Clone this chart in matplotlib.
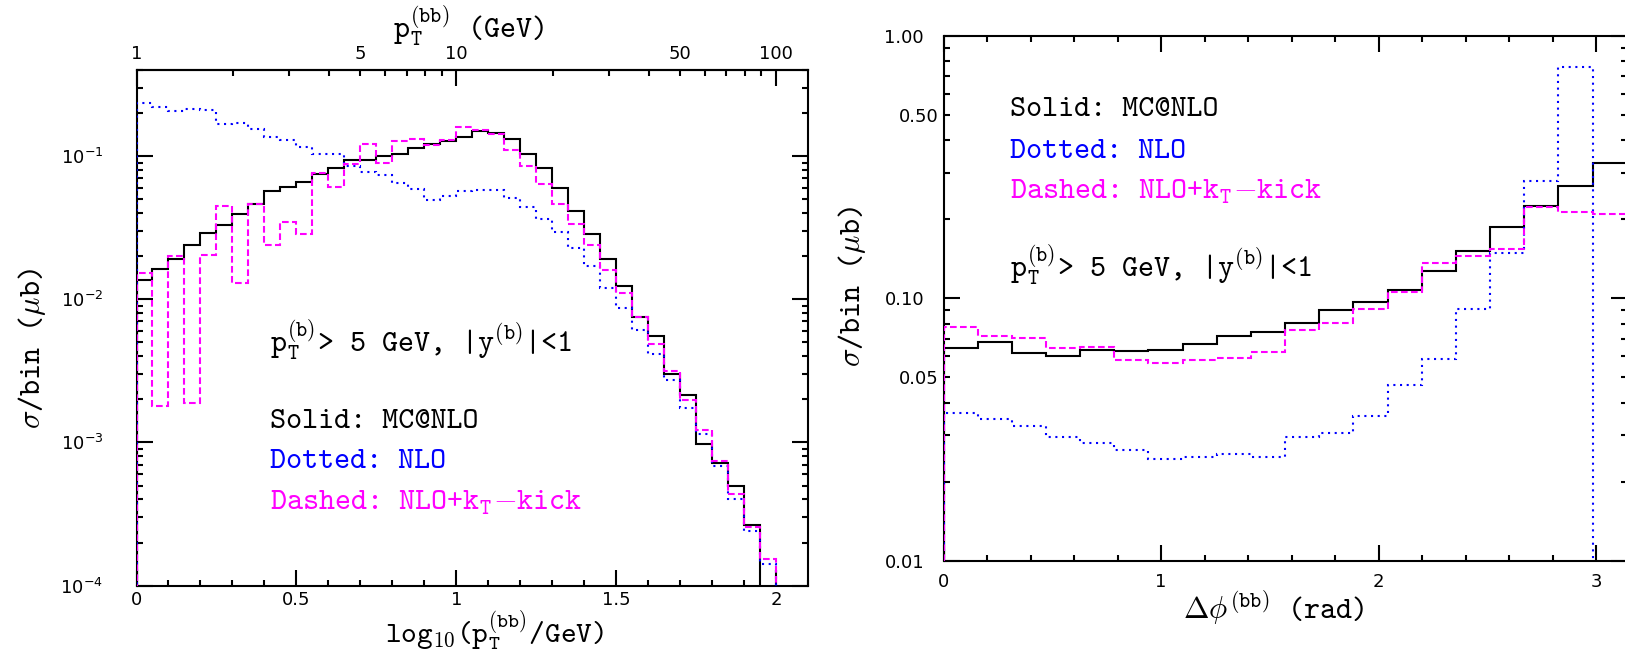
import numpy as np
import matplotlib
matplotlib.use("Agg")
import matplotlib.pyplot as plt
from matplotlib.ticker import FixedLocator, MultipleLocator, LogLocator, FuncFormatter, NullFormatter

plt.rcParams['font.family'] = ['DejaVu Sans']
plt.rcParams['mathtext.fontset'] = 'cm'

# ---------------- data ----------------
# Left panel: sigma/bin vs log10(pT(bb)/GeV), 40 bins of width 0.05 between 0 and 2
pt_edges = np.round(np.arange(41) * 0.05, 3)
pt_mcatnlo = [0.0136, 0.0162, 0.0191, 0.0238, 0.0290, 0.0332, 0.0392, 0.0465, 0.0570, 0.0608,
              0.0659, 0.0749, 0.0825, 0.0933, 0.0942, 0.0995, 0.1038, 0.1130, 0.1205, 0.1264,
              0.1364, 0.1490, 0.1456, 0.1320, 0.1033, 0.0829, 0.0601, 0.0413, 0.0284, 0.0192,
              0.0124, 0.00753, 0.00557, 0.00299, 0.00216, 0.00098, 0.000718, 0.000493, 0.000264, 1e-6]
pt_nlo = [0.234, 0.220, 0.205, 0.211, 0.209, 0.168, 0.171, 0.155, 0.136, 0.130,
          0.1156, 0.1028, 0.1038, 0.0847, 0.0773, 0.0733, 0.0648, 0.0592, 0.0491, 0.0524,
          0.0567, 0.0582, 0.0576, 0.0512, 0.0441, 0.0361, 0.0295, 0.0226, 0.0170, 0.0120,
          0.00875, 0.0061, 0.00413, 0.00273, 0.00175, 0.00114, 0.000688, 0.000405, 0.000242, 0.000142]
pt_kick = [0.01535, 0.0018, 0.0200, 0.0019, 0.0204, 0.0446, 0.0130, 0.0460, 0.0240, 0.0347,
           0.0284, 0.0765, 0.0608, 0.0875, 0.1220, 0.0894, 0.1270, 0.1315, 0.1194, 0.1285,
           0.1585, 0.1510, 0.1416, 0.1096, 0.0847, 0.0634, 0.0460, 0.0336, 0.0238, 0.0160,
           0.01107, 0.00753, 0.00488, 0.00313, 0.00198, 0.00123, 0.000745, 0.000439, 0.000256, 0.000153]

# Right panel: sigma/bin vs delta phi(bb), 20 bins of width pi/20
dphi_edges = np.linspace(0, np.pi, 21)
dphi_mcatnlo = [0.0648, 0.0679, 0.0617, 0.0601, 0.0635, 0.0628, 0.0637, 0.0668, 0.0717, 0.0743,
                0.0802, 0.0904, 0.0964, 0.1070, 0.1273, 0.1509, 0.1873, 0.2245, 0.2676, 0.3280]
dphi_nlo = [0.0366, 0.0348, 0.0325, 0.0295, 0.0282, 0.0264, 0.0243, 0.0248, 0.0254, 0.0248,
            0.0297, 0.0306, 0.0356, 0.0465, 0.0587, 0.0910, 0.1490, 0.2805, 0.7620, 1e-6]
dphi_kick = [0.0779, 0.0720, 0.0703, 0.0648, 0.0654, 0.0582, 0.0568, 0.0582, 0.0594, 0.0622,
             0.0757, 0.0802, 0.0910, 0.1060, 0.1366, 0.1449, 0.1540, 0.2220, 0.2125, 0.2087]

# tick labels
pt_xticks = [0, 0.5, 1, 1.5, 2]
pt_top_major = [1, 10, 100]
pt_top_minor = [2, 3, 4, 5, 6, 7, 8, 9, 20, 30, 40, 50, 60, 70, 80, 90]
pt_top_labelled = [5, 50]
dphi_xticks = [0, 1, 2, 3]
dphi_ylabelled = [0.05, 0.5]

# ---------------- figure ----------------
W, H = 1625, 650
fig = plt.figure(figsize=(W / 100, H / 100), dpi=100)


def fx(x):
    return x / W


def fy(y):
    return 1 - y / H


axL = fig.add_axes([fx(136.5), fy(585.7), (808 - 136.5) / W, (585.7 - 69.7) / H])
axR = fig.add_axes([fx(943.5), fy(560.7), (1626.8 - 943.5) / W, (560.7 - 35.7) / H])

LW = 1.5
st_mc = dict(color='black', lw=LW, ls='-', zorder=3)
st_nlo = dict(color='#0000ff', lw=LW, ls=(0, (1, 2.2)), zorder=4)
st_kick = dict(color='#ff00ff', lw=LW, ls=(0, (3.2, 1.6)), zorder=5)

for ax, edges, mc, nlo, kick in [(axL, pt_edges, pt_mcatnlo, pt_nlo, pt_kick),
                                  (axR, dphi_edges, dphi_mcatnlo, dphi_nlo, dphi_kick)]:
    ax.set_yscale('log')
    ax.stairs(mc, edges, baseline=1e-9, fill=False, **st_mc)
    ax.stairs(nlo, edges, baseline=1e-9, fill=False, **st_nlo)
    ax.stairs(kick, edges, baseline=1e-9, fill=False, **st_kick)
    for s in ax.spines.values():
        s.set_linewidth(LW)

MAJ, MIN = 11.5, 4.3
TICKFS = 13

# ---- left axes ----
axL.set_xlim(0, 2.1)
axL.set_ylim(1e-4, 0.4)
axL.xaxis.set_major_locator(FixedLocator(pt_xticks))
axL.xaxis.set_minor_locator(MultipleLocator(0.1))
axL.xaxis.set_major_formatter(FuncFormatter(lambda v, p: f'{v:g}'))
axL.yaxis.set_major_locator(LogLocator(base=10))
axL.yaxis.set_minor_locator(LogLocator(base=10, subs=np.arange(2, 10)))
axL.yaxis.set_minor_formatter(NullFormatter())
axL.yaxis.set_major_formatter(FuncFormatter(
    lambda v, p: r'$\mathregular{10^{%d}}$' % int(round(np.log10(v)))))
axL.tick_params(which='both', direction='in', top=False, bottom=True, left=True, right=True,
                width=LW, labelsize=TICKFS)
axL.tick_params(which='major', length=MAJ)
axL.tick_params(which='minor', length=MIN)
axL.tick_params(axis='x', pad=4)
axL.tick_params(axis='y', pad=24)

sec = axL.secondary_xaxis('top')
sec.xaxis.set_major_locator(FixedLocator(np.log10(pt_top_major)))
sec.xaxis.set_major_formatter(FuncFormatter(lambda v, p: f'{10 ** v:.0f}'))
sec.xaxis.set_minor_locator(FixedLocator(np.log10(pt_top_minor)))
sec.xaxis.set_minor_formatter(FuncFormatter(
    lambda v, p: f'{10 ** v:.0f}' if round(10 ** v) in pt_top_labelled else ''))
sec.tick_params(which='both', direction='in', width=LW, labelsize=TICKFS, pad=5)
sec.tick_params(which='major', length=MAJ)
sec.tick_params(which='minor', length=MIN)
sec.spines['top'].set_linewidth(LW)

# ---- right axes ----
axR.set_xlim(0, np.pi)
axR.set_ylim(0.01, 1.0)
axR.xaxis.set_major_locator(FixedLocator(dphi_xticks))
axR.xaxis.set_minor_locator(MultipleLocator(0.2))
axR.xaxis.set_major_formatter(FuncFormatter(lambda v, p: f'{v:g}'))
axR.yaxis.set_major_locator(LogLocator(base=10))
axR.yaxis.set_minor_locator(LogLocator(base=10, subs=np.arange(2, 10)))
axR.yaxis.set_major_formatter(FuncFormatter(lambda v, p: f'{v:.2f}'))
axR.yaxis.set_minor_formatter(FuncFormatter(
    lambda v, p: f'{v:.2f}' if any(abs(v - t) < 1e-6 for t in dphi_ylabelled) else ''))
axR.tick_params(which='both', direction='in', top=True, bottom=True, left=True, right=True,
                width=LW, labelsize=TICKFS)
axR.tick_params(which='major', length=MAJ)
axR.tick_params(which='minor', length=MIN)
axR.tick_params(axis='x', pad=9)
axR.tick_params(axis='y', pad=14)

# ---------------- text ----------------
TF = dict(family='cmtt10', size=22)
BLUE, MAG = '#0000ff', '#ff00ff'
cut_txt = r'p$_{\mathtt{T}}^{\mathtt{(b)}}$> 5 GeV, |y$^{\mathtt{(b)}}$|<1'
kick_txt = r'Dashed: NLO+k$_{\mathtt{T}}$$-$kick'

fig.text(fx(270), fy(352), cut_txt, va='baseline', ha='left', **TF)
fig.text(fx(270), fy(428), 'Solid: MC@NLO', va='baseline', ha='left', color='black', **TF)
fig.text(fx(270), fy(468), 'Dotted: NLO', va='baseline', ha='left', color=BLUE, **TF)
fig.text(fx(270), fy(510), kick_txt, va='baseline', ha='left', color=MAG, **TF)

fig.text(fx(1010), fy(116), 'Solid: MC@NLO', va='baseline', ha='left', color='black', **TF)
fig.text(fx(1010), fy(158), 'Dotted: NLO', va='baseline', ha='left', color=BLUE, **TF)
fig.text(fx(1010), fy(199), kick_txt, va='baseline', ha='left', color=MAG, **TF)
fig.text(fx(1010), fy(277), cut_txt, va='baseline', ha='left', **TF)

# axis titles
fig.text(fx(495), fy(642), r'log$_{\mathtt{10}}$(p$_{\mathtt{T}}^{\mathtt{(bb)}}$/GeV)',
         va='baseline', ha='center', family='cmtt10', size=21.5)
fig.text(fx(469), fy(38), r'p$_{\mathtt{T}}^{\mathtt{(bb)}}$ (GeV)', va='baseline', ha='center', **TF)
fig.text(fx(1274), fy(619), r'$\Delta\phi^{\mathtt{(bb)}}$ (rad)', va='baseline', ha='center', **TF)
fig.text(fx(32), fy(349), r'$\sigma$/bin ($\mu$b)', rotation=90, va='center', ha='center', **TF)
fig.text(fx(852), fy(287), r'$\sigma$/bin ($\mu$b)', rotation=90, va='center', ha='center', **TF)

fig.savefig('out.png', dpi=100)
